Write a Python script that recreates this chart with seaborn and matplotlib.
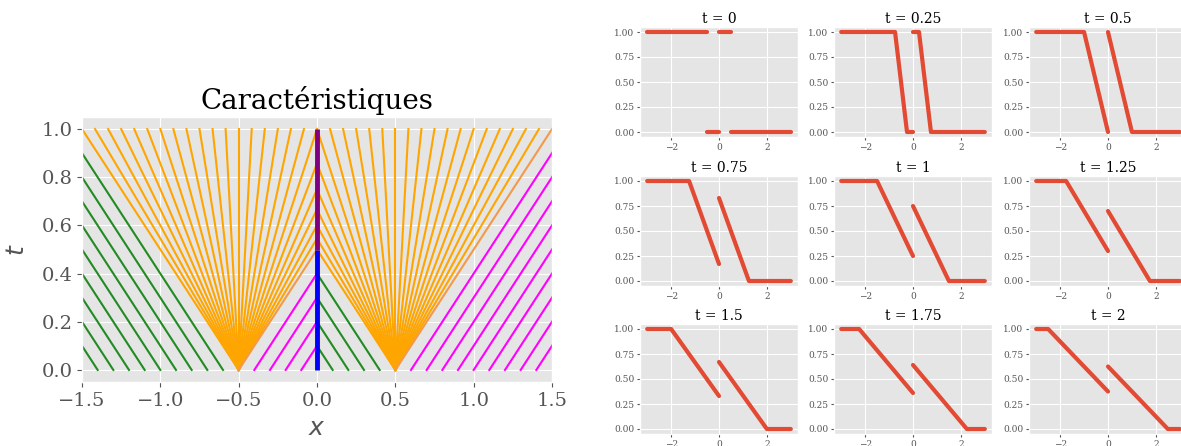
import numpy as np
import pandas as pd
import seaborn as sns
import matplotlib.pyplot as plt

# --- caractéristiques (panneau de gauche) ---
green_left_x0 = [-1.4, -1.3, -1.2, -1.1, -1.0, -0.9, -0.8, -0.7, -0.6]
magenta_left_x0 = [-0.4, -0.3, -0.2, -0.1]
green_right_x0 = [0.1, 0.2, 0.3, 0.4]
magenta_right_x0 = [0.6, 0.7, 0.8, 0.9, 1.0, 1.1, 1.2, 1.3, 1.4]
fan_origins = [-0.5, 0.5]
fan_speeds = [-1.0, -0.9167, -0.8333, -0.75, -0.6667, -0.5833, -0.5, -0.4167,
              -0.3333, -0.25, -0.1667, -0.0833, 0.0, 0.0833, 0.1667, 0.25,
              0.3333, 0.4167, 0.5, 0.5833, 0.6667, 0.75, 0.8333, 0.9167, 1.0]
shock_x = 0.0
shock_t_blue = [0.0, 0.5]
shock_t_purple = [0.5, 1.0]

# --- solution u(x, t) (panneaux de droite) ---
nan = np.nan
panel_titles = ["t = 0", "t = 0.25", "t = 0.5", "t = 0.75", "t = 1",
                "t = 1.25", "t = 1.5", "t = 1.75", "t = 2"]
panel_x = [
    [-3, -0.5, nan, -0.5, 0, nan, 0, 0.5, nan, 0.5, 3],
    [-3, -0.75, -0.25, 0, nan, 0, 0.25, 0.75, 3],
    [-3, -1.0, 0, nan, 0, 1.0, 3],
    [-3, -1.25, 0, nan, 0, 1.25, 3],
    [-3, -1.5, 0, nan, 0, 1.5, 3],
    [-3, -1.75, 0, nan, 0, 1.75, 3],
    [-3, -2.0, 0, nan, 0, 2.0, 3],
    [-3, -2.25, 0, nan, 0, 2.25, 3],
    [-3, -2.5, 0, nan, 0, 2.5, 3],
]
panel_u = [
    [1, 1, nan, 0, 0, nan, 1, 1, nan, 0, 0],
    [1, 1, 0, 0, nan, 1, 1, 0, 0],
    [1, 1, 0.0, nan, 1.0, 0, 0],
    [1, 1, 0.17, nan, 0.83, 0, 0],
    [1, 1, 0.25, nan, 0.75, 0, 0],
    [1, 1, 0.30, nan, 0.70, 0, 0],
    [1, 1, 0.33, nan, 0.67, 0, 0],
    [1, 1, 0.36, nan, 0.64, 0, 0],
    [1, 1, 0.375, nan, 0.625, 0, 0],
]

plt.style.use('ggplot')
plt.rcParams['font.family'] = 'serif'
plt.rcParams['font.serif'] = ['DejaVu Serif']


def segments_df(segs):
    rows = []
    for i, ((x0, t0), (x1, t1)) in enumerate(segs):
        rows.append({'id': i, 'x': x0, 't': t0})
        rows.append({'id': i, 'x': x1, 't': t1})
    return pd.DataFrame(rows)


def tracer(ax, segs, couleur, lw=1.5, z=2):
    if not segs:
        return
    df = segments_df(segs)
    sns.lineplot(data=df, x='x', y='t', units='id', estimator=None, sort=False,
                 color=couleur, lw=lw, ax=ax, legend=False, zorder=z)


W, H = 1181, 446
fig = plt.figure(figsize=(W / 100, H / 100), dpi=100)

# panneau des caractéristiques
ax = fig.add_axes([82 / W, 1 - 382 / H, 470 / W, 265 / H])

verts = [((x0, 0), (x0 - 1, 1)) for x0 in green_left_x0]
verts += [((x0, 0), (x0 - x0, x0)) for x0 in green_right_x0]
tracer(ax, verts, 'forestgreen')

magentas = [((x0, 0), (0, -x0)) for x0 in magenta_left_x0]
magentas += [((x0, 0), (x0 + 1, 1)) for x0 in magenta_right_x0]
tracer(ax, magentas, 'magenta')

fan, bord = [], []
for o in fan_origins:
    for s in fan_speeds:
        fin = 1.0
        if (o < 0 and s > 0.5) or (o > 0 and s < -0.5):
            fin = 0.5 / abs(s)
        seg = ((o, 0), (o + s * fin, fin))
        if s == 1.0:
            bord.append(seg)
        else:
            fan.append(seg)
tracer(ax, fan, 'orange')
tracer(ax, bord, '#F29A4A')

ax.plot([shock_x, shock_x], shock_t_blue, color='blue', lw=3.5, zorder=4,
        solid_capstyle='butt')
ax.plot([shock_x, shock_x], shock_t_purple, color='purple', lw=3.5, zorder=4,
        solid_capstyle='butt')

ax.set_xlim(-1.5, 1.5)
ax.set_ylim(-0.05, 1.05)
ax.set_xticks([-1.5, -1.0, -0.5, 0.0, 0.5, 1.0, 1.5])
ax.set_yticks([0.0, 0.2, 0.4, 0.6, 0.8, 1.0])
ax.tick_params(labelsize=14)
ax.set_title('Caractéristiques', fontsize=20, color='black')
ax.set_xlabel('$x$', fontsize=18, labelpad=5)
ax.set_ylabel('$t$', fontsize=18, labelpad=9)

# panneaux de la solution
col_left = [640, 834, 1029]
row_top = [27, 176, 324]
for k in range(9):
    r, c = divmod(k, 3)
    a = fig.add_axes([col_left[c] / W, 1 - (row_top[r] + 110) / H, 158 / W, 110 / H])
    xs = np.array(panel_x[k], dtype=float)
    us = np.array(panel_u[k], dtype=float)
    piece = np.cumsum(np.isnan(xs))
    df = pd.DataFrame({'x': xs, 'u': us, 'piece': piece}).dropna()
    sns.lineplot(data=df, x='x', y='u', units='piece', estimator=None, sort=False,
                 color='#E24A33', lw=3, ax=a, legend=False, solid_capstyle='round')
    a.set_xlim(-3.3, 3.3)
    a.set_ylim(-0.05, 1.05)
    a.set_xticks([-2, 0, 2])
    a.set_yticks([0, 0.25, 0.5, 0.75, 1.0])
    a.set_yticklabels(['0.00', '0.25', '0.50', '0.75', '1.00'])
    a.tick_params(labelsize=6.5, length=2, pad=2)
    a.set_xlabel('')
    a.set_ylabel('')
    a.set_title(panel_titles[k], fontsize=10, color='black', pad=3)

fig.savefig('out.png', dpi=100)
